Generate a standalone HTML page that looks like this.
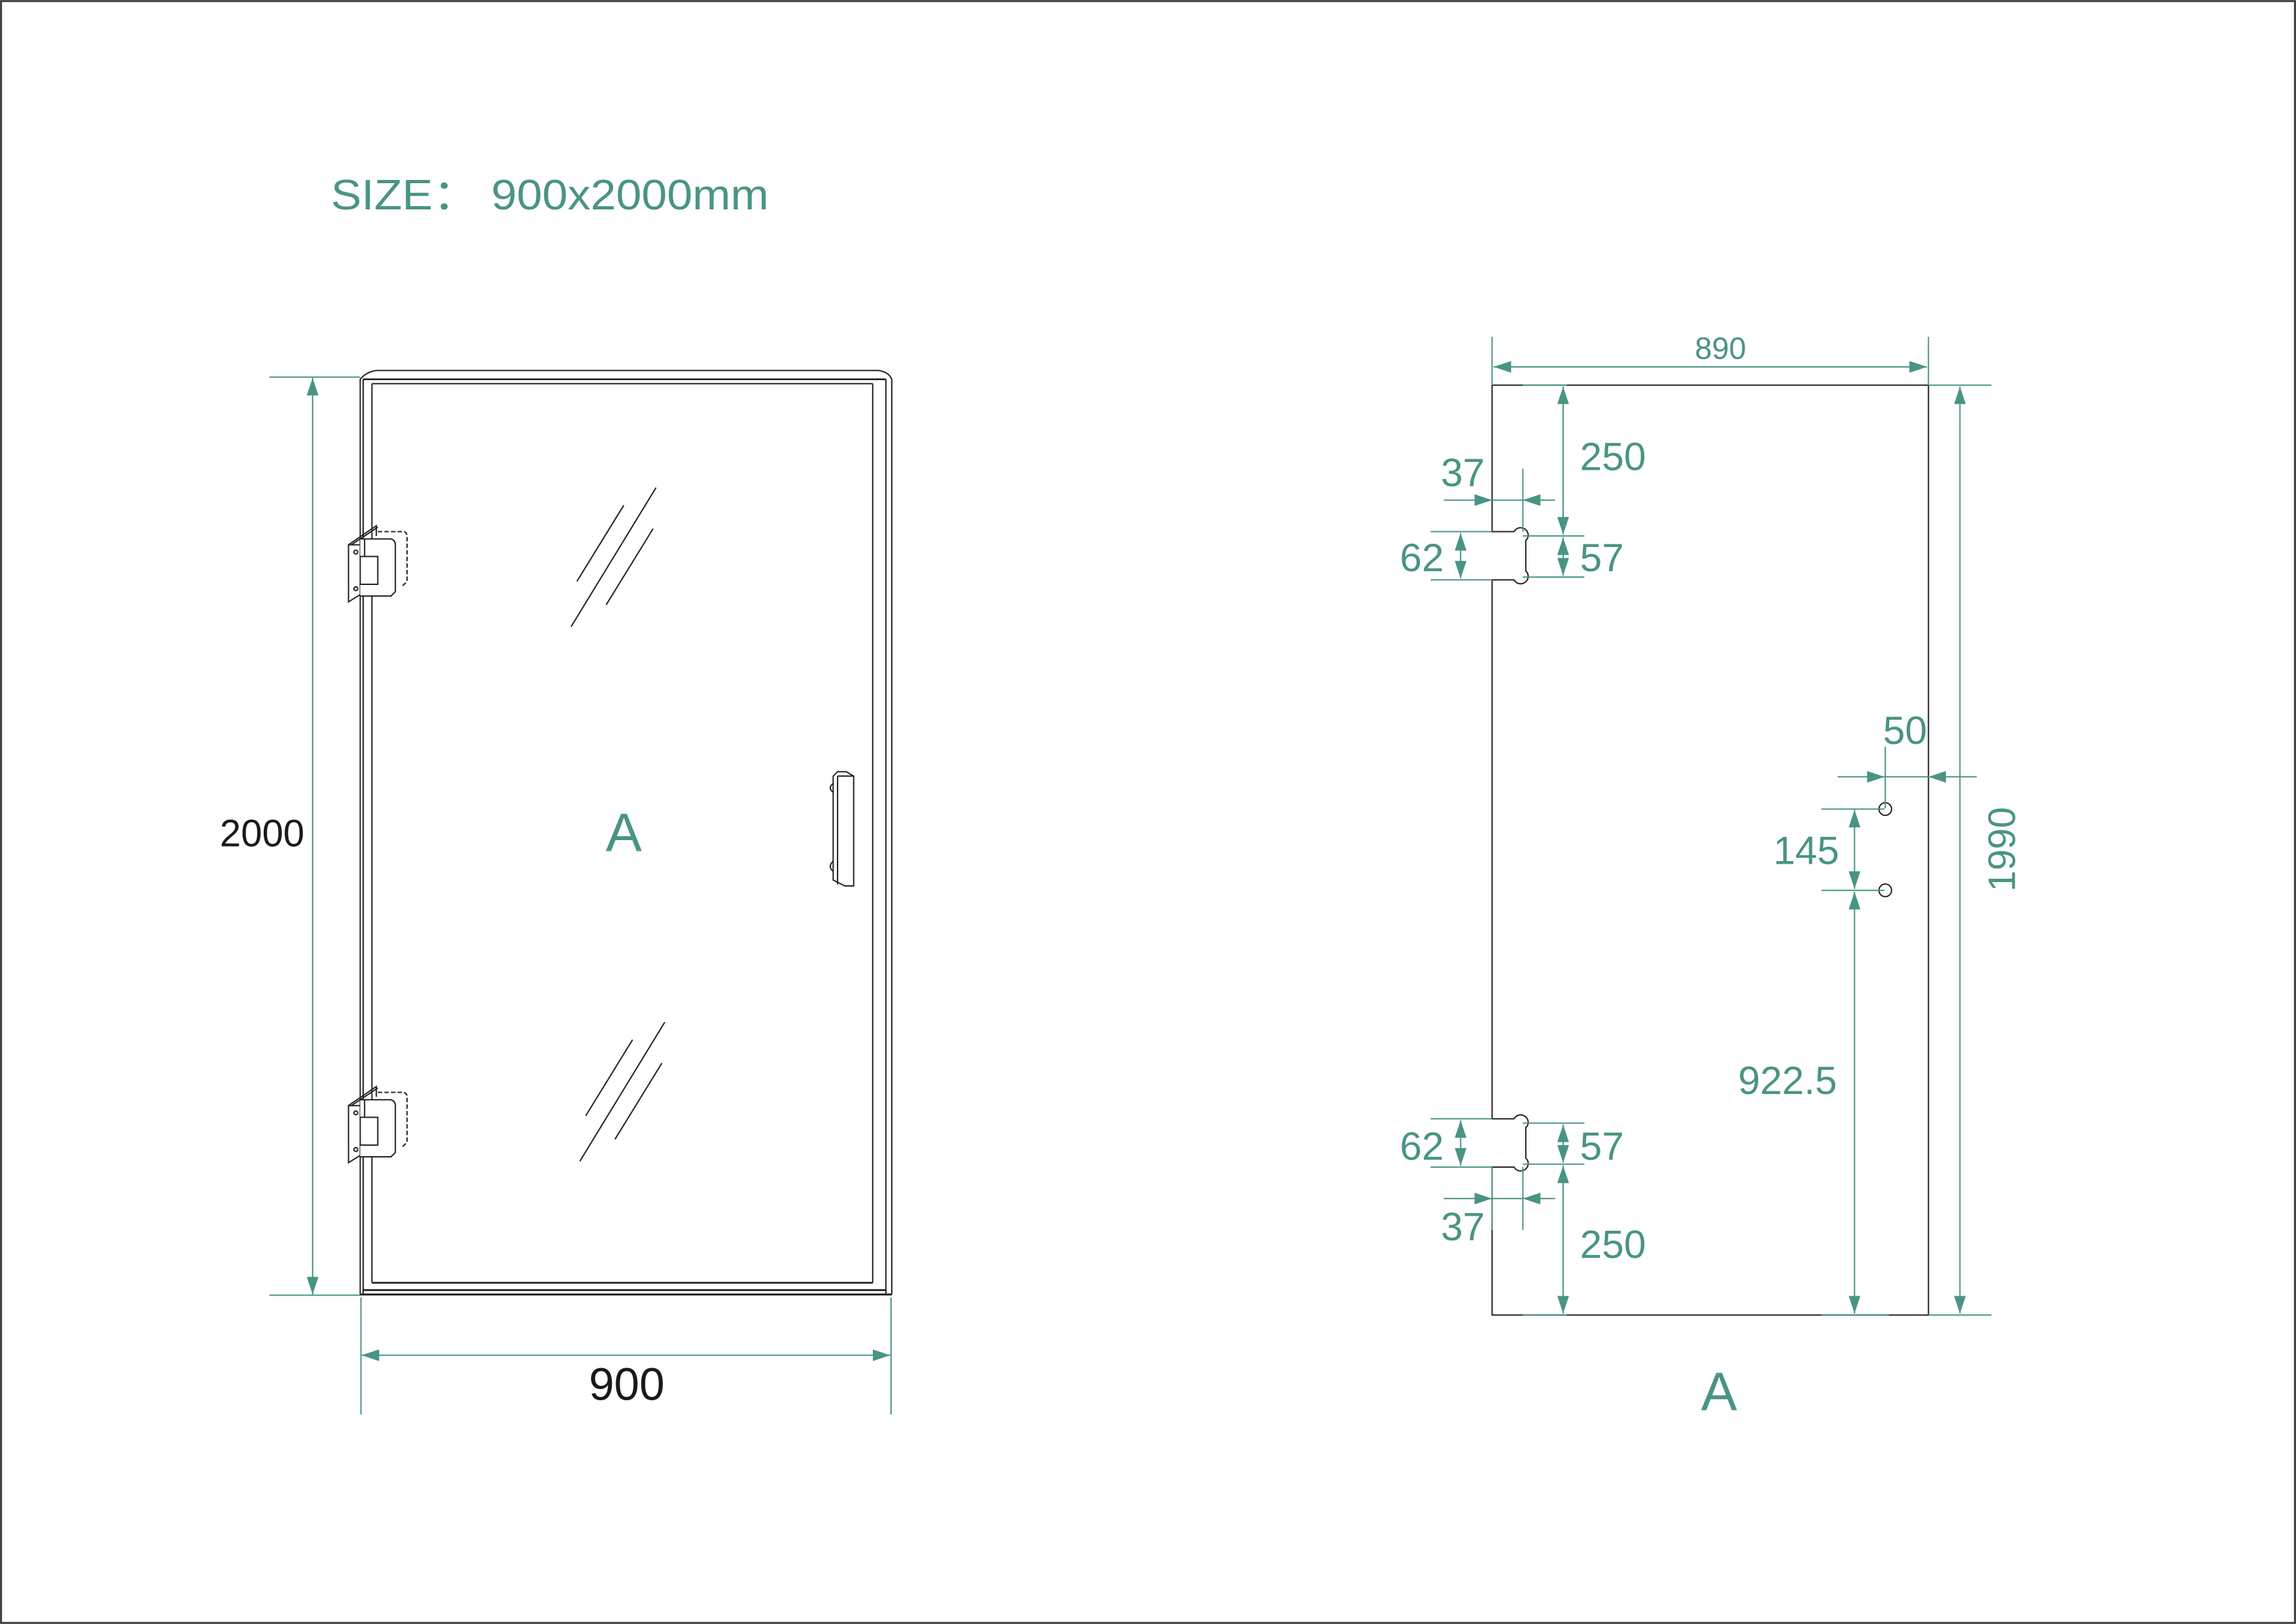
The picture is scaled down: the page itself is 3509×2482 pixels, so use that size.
<!DOCTYPE html>
<html><head><meta charset="utf-8"><style>
html,body{margin:0;padding:0;background:#fff;}
svg{display:block;}
text{font-family:"Liberation Sans","Noto Sans CJK SC",sans-serif;}
</style></head><body>
<svg width="3509" height="2482" viewBox="0 0 1568 1109" xmlns="http://www.w3.org/2000/svg">
<defs>
<marker id="ar" viewBox="0 0 12 8" refX="12" refY="4" markerWidth="12" markerHeight="8" markerUnits="userSpaceOnUse" orient="auto-start-reverse">
<path d="M0,0 L12,4 L0,8 Z" fill="#4a9484"/>
</marker>
</defs>
<rect x="0.7" y="0.7" width="1566.6" height="1107.6" fill="#fff" stroke="#444" stroke-width="1.4"/>

<text x="226" y="143" font-size="29" fill="#4a9484" textLength="299" lengthAdjust="spacingAndGlyphs">SIZE：  900x2000mm</text>

<!-- LEFT DOOR -->
<g fill="none" stroke="#222" stroke-width="0.9">
<path d="M246,884 L246,259 Q250,254 257,253 L600,253 Q607,254 609,259 L609,884"/>
<line x1="248" y1="259" x2="248" y2="884"/>
<line x1="254" y1="262" x2="254" y2="876"/>
<line x1="596" y1="262" x2="596" y2="876"/>
<line x1="605" y1="259" x2="605" y2="884"/>
<line x1="248" y1="259" x2="605" y2="259" stroke-width="1.2"/>
<line x1="254" y1="262" x2="596" y2="262"/>
<line x1="254" y1="876" x2="596" y2="876" stroke-width="1.2"/>
<line x1="248" y1="881" x2="605" y2="881" stroke-width="1.3"/>
<line x1="246" y1="884" x2="609" y2="884" stroke-width="1.3"/>
<line x1="394" y1="397" x2="426" y2="345"/>
<line x1="390" y1="428" x2="448" y2="333"/>
<line x1="414" y1="413" x2="446" y2="361"/>
<line x1="400" y1="762" x2="432" y2="710"/>
<line x1="396" y1="793" x2="454" y2="698"/>
<line x1="420" y1="778" x2="452" y2="726"/>
<path d="M569,530 L572,527 L578,527 L583,530 L583,605 L577,605 L569,601 Z"/>
<line x1="572" y1="530" x2="583" y2="530"/>
<line x1="572" y1="530" x2="572" y2="604"/>
<path d="M569,535 Q565,538 569,541"/>
<path d="M569,588 Q565,592 569,595"/>
</g>
<g fill="none" stroke="#222" stroke-width="0.9">
<g id="hinge">
<path d="M238,372 L257,359 L257,366"/>
<line x1="240" y1="372" x2="258" y2="360"/>
<path d="M238,372 L238,411 L246,406 L246,372 Z" fill="#fff"/>
<circle cx="243" cy="377" r="1.3"/>
<circle cx="243" cy="402" r="1.3"/>
<path d="M258,363 L276,363 Q278,364 278,366 L278,397 L275,400" stroke-dasharray="3,1.5"/>
<path d="M246,368 L267,368 Q270,369 270,372 L270,404 L267,407 L246,407" fill="#fff"/>
<rect x="246" y="380" width="12" height="19" fill="#fff"/>
<line x1="249" y1="368" x2="249" y2="380"/>
</g>
<use href="#hinge" transform="translate(0,383)"/>
</g>

<g stroke="#4a9484" stroke-width="0.9" fill="none">
<line x1="184" y1="257.5" x2="246" y2="257.5"/>
<line x1="184" y1="884.5" x2="246" y2="884.5"/>
<line x1="213.5" y1="258" x2="213.5" y2="884" marker-start="url(#ar)" marker-end="url(#ar)"/>
<line x1="246.5" y1="886" x2="246.5" y2="966"/>
<line x1="608.5" y1="886" x2="608.5" y2="966"/>
<line x1="247" y1="925.5" x2="608" y2="925.5" marker-start="url(#ar)" marker-end="url(#ar)"/>
</g>
<text x="179" y="578" font-size="26" fill="#1a1a1a" text-anchor="middle">2000</text>
<text x="428" y="956" font-size="31" fill="#1a1a1a" text-anchor="middle">900</text>
<text x="426" y="581" font-size="37" fill="#4a9484" text-anchor="middle">A</text>

<!-- RIGHT PANEL -->
<g fill="none" stroke="#222" stroke-width="0.9">
<path d="M1019,263 L1317,263 L1317,898 L1019,898 L1019,797 L1034,797 A5,5 0 1 0 1043,792 L1042,791 L1042,770 L1043,769 A5,5 0 1 0 1034,764 L1019,764 L1019,396 L1034,396 A5,5 0 1 0 1043,391 L1042,390 L1042,369 L1043,368 A5,5 0 1 0 1034,363 L1019,363 Z"/>
<circle cx="1287.5" cy="552.5" r="4.3"/>
<circle cx="1287.5" cy="608" r="4.3"/>
</g>
<g stroke="#4a9484" stroke-width="0.9" fill="none">
<line x1="1019" y1="230" x2="1019" y2="263"/>
<line x1="1317" y1="230" x2="1317" y2="263"/>
<line x1="1020" y1="250.5" x2="1316" y2="250.5" marker-start="url(#ar)" marker-end="url(#ar)"/>
<line x1="1317" y1="263" x2="1360" y2="263"/>
<line x1="1317" y1="898" x2="1360" y2="898"/>
<line x1="1338.5" y1="264" x2="1338.5" y2="897" marker-start="url(#ar)" marker-end="url(#ar)"/>
<line x1="1040" y1="263" x2="1070" y2="263"/>
<line x1="1067.5" y1="264" x2="1067.5" y2="365" marker-start="url(#ar)" marker-end="url(#ar)"/>
<line x1="1040" y1="320" x2="1040" y2="363"/>
<line x1="986" y1="341.5" x2="1019" y2="341.5" marker-end="url(#ar)"/>
<line x1="1062" y1="341.5" x2="1040" y2="341.5" marker-end="url(#ar)"/>
<line x1="1019" y1="341.5" x2="1040" y2="341.5"/>
<line x1="977" y1="363" x2="1019" y2="363"/>
<line x1="977" y1="396" x2="1019" y2="396"/>
<line x1="997.5" y1="364" x2="997.5" y2="395" marker-start="url(#ar)" marker-end="url(#ar)"/>
<line x1="1040" y1="366" x2="1082" y2="366"/>
<line x1="1040" y1="394" x2="1082" y2="394"/>
<line x1="1067.5" y1="367" x2="1067.5" y2="393" marker-start="url(#ar)" marker-end="url(#ar)"/>
<line x1="977" y1="764" x2="1019" y2="764"/>
<line x1="977" y1="797" x2="1019" y2="797"/>
<line x1="997.5" y1="765" x2="997.5" y2="796" marker-start="url(#ar)" marker-end="url(#ar)"/>
<line x1="1040" y1="767" x2="1082" y2="767"/>
<line x1="1040" y1="795" x2="1082" y2="795"/>
<line x1="1067.5" y1="768" x2="1067.5" y2="794" marker-start="url(#ar)" marker-end="url(#ar)"/>
<line x1="1067.5" y1="796" x2="1067.5" y2="897" marker-start="url(#ar)" marker-end="url(#ar)"/>
<line x1="1040" y1="898" x2="1070" y2="898"/>
<line x1="1040" y1="797" x2="1040" y2="840"/>
<line x1="1019" y1="797" x2="1019" y2="840"/>
<line x1="986" y1="818.5" x2="1019" y2="818.5" marker-end="url(#ar)"/>
<line x1="1062" y1="818.5" x2="1040" y2="818.5" marker-end="url(#ar)"/>
<line x1="1019" y1="818.5" x2="1040" y2="818.5"/>
<line x1="1287.5" y1="510" x2="1287.5" y2="552"/>
<line x1="1255" y1="530.5" x2="1287" y2="530.5" marker-end="url(#ar)"/>
<line x1="1350" y1="530.5" x2="1317" y2="530.5" marker-end="url(#ar)"/>
<line x1="1287" y1="530.5" x2="1317" y2="530.5"/>
<line x1="1244" y1="552.5" x2="1287" y2="552.5"/>
<line x1="1244" y1="608" x2="1287" y2="608"/>
<line x1="1266.5" y1="553" x2="1266.5" y2="607" marker-start="url(#ar)" marker-end="url(#ar)"/>
<line x1="1266.5" y1="609" x2="1266.5" y2="897" marker-start="url(#ar)" marker-end="url(#ar)"/>
<line x1="1244" y1="898" x2="1290" y2="898"/>
</g>
<g fill="#4a9484" font-size="27">
<text x="1175" y="245" font-size="21" text-anchor="middle">890</text>
<text x="1079" y="321">250</text>
<text x="984" y="332">37</text>
<text x="956" y="390">62</text>
<text x="1079" y="390">57</text>
<text x="956" y="792">62</text>
<text x="1079" y="792">57</text>
<text x="984" y="847">37</text>
<text x="1079" y="859">250</text>
<text x="1286" y="508">50</text>
<text x="1211" y="590">145</text>
<text x="1187" y="747">922.5</text>
<text x="1376" y="580" font-size="26" text-anchor="middle" transform="rotate(-90 1376 580)">1990</text>
<text x="1174" y="963" font-size="37" text-anchor="middle">A</text>
</g>
</svg>
</body></html>
